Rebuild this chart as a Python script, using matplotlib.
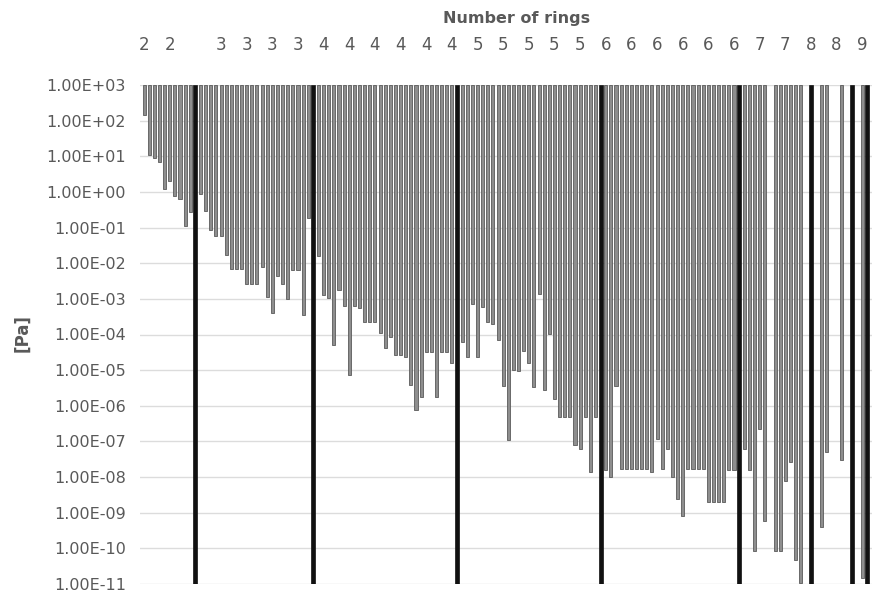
import numpy as np
import matplotlib.pyplot as plt

nan = np.nan

# pressure reached by each configuration [Pa], grouped by number of rings
rings_2 = [1.4e2, 1.1e1, 9.0, 7.0, 1.2, 2.0, 0.78, 0.63, 0.11, 0.28]
rings_3 = [0.85, 0.3, 0.083, 0.058, 0.058, 0.0166, 0.0068, 0.0068, 0.0068, 0.0026,
           0.0026, 0.0026, 0.0076, 0.0011, 4.1e-4, 0.0043, 0.0026, 1.0e-3, 0.0065,
           0.0065, 3.5e-4, 0.18]
rings_4 = [0.0155, 1.3e-3, 1.05e-3, 5.1e-5, 1.8e-3, 6.5e-4, 7.4e-6, 6.5e-4, 5.5e-4,
           2.3e-4, 2.3e-4, 2.3e-4, 1.1e-4, 4.2e-5, 8.7e-5, 2.7e-5, 2.7e-5, 2.4e-5,
           3.9e-6, 7.8e-7, 1.8e-6, 3.3e-5, 3.3e-5, 1.8e-6, 3.3e-5, 3.3e-5, 1.55e-5]
rings_5 = [6.2e-5, 2.3e-5, 7.4e-4, 2.3e-5, 5.9e-4, 2.2e-4, 2.0e-4, 6.9e-5, 3.7e-6,
           1.07e-7, 1.0e-5, 9.3e-6, 3.4e-5, 1.6e-5, 3.4e-6, 1.4e-3, 2.7e-6, 1.05e-4,
           1.6e-6, 4.8e-7, 4.8e-7, 4.8e-7, 7.8e-8, 6.2e-8, 4.8e-7, 1.4e-8, 4.8e-7]
rings_6 = [1.6e-8, 1.0e-8, 3.7e-6, 1.7e-8, 1.7e-8, 1.7e-8, 1.7e-8, 1.7e-8, 1.7e-8,
           1.4e-8, 1.2e-7, 1.7e-8, 6.2e-8, 1.0e-8, 2.5e-9, 8.3e-10, 1.7e-8, 1.7e-8,
           1.7e-8, 1.7e-8, 2.0e-9, 2.0e-9, 2.0e-9, 2.0e-9, 1.55e-8, 1.55e-8]
rings_7 = [6.2e-8, 1.55e-8, 8.7e-11, 2.2e-7, 6.0e-10, nan, 8.7e-11, 8.7e-11, 7.9e-9,
           2.6e-8, 4.6e-11, 1.1e-11, nan]
rings_8 = [nan, 3.9e-10, 5.2e-8, nan, nan, 3.0e-8, nan]
rings_9 = [nan, 1.5e-11]

# thick separator bar after each group
sep_value = 1e-11

top_labels = ['2', '2', '', '3', '3', '3', '3', '4', '4', '4', '4', '4', '4',
              '5', '5', '5', '5', '5', '6', '6', '6', '6', '6', '6',
              '7', '7', '8', '8', '9']
y_ticks = [10.0 ** e for e in range(3, -12, -1)]

groups = [rings_2, rings_3, rings_4, rings_5, rings_6, rings_7, rings_8, rings_9]
values = []
is_sep = []
for g in groups:
    values += g
    is_sep += [False] * len(g)
    values.append(sep_value)
    is_sep.append(True)
values = np.array(values, dtype=float)
is_sep = np.array(is_sep)
x = np.arange(len(values))

top = 1e3
fig = plt.figure(figsize=(8.74, 5.93), dpi=100)
ax = fig.add_axes([140 / 874, 1 - 584 / 593, 732 / 874, 499 / 593])

gray = ~is_sep & ~np.isnan(values)
ax.bar(x[gray], top - values[gray], bottom=values[gray], width=0.6,
       color='#8e8e8e', edgecolor='#5a5a5a', linewidth=0.6, zorder=2)
ax.bar(x[is_sep], top - values[is_sep], bottom=values[is_sep], width=0.8,
       color='#111111', edgecolor='#111111', linewidth=0.5, zorder=3)

ax.set_yscale('log')
ax.set_ylim(1e-11, 1e3)
ax.set_xlim(-0.8, 141.9)
ax.set_yticks(y_ticks)
ax.set_yticklabels(['%.2E' % v for v in y_ticks])
ax.minorticks_off()
ax.yaxis.grid(True, color='#dcdcdc', linewidth=1.0, zorder=0)
ax.set_axisbelow(True)

ax.xaxis.tick_top()
ax.set_xticks(np.arange(0, 141, 5))
ax.set_xticklabels(top_labels)

txt = '#595959'
ax.tick_params(axis='x', length=0, pad=22, labelsize=12, labelcolor=txt)
ax.tick_params(axis='y', length=0, pad=10, labelsize=11.5, labelcolor=txt)
for s in ax.spines.values():
    s.set_visible(False)

fig.text(517 / 874, 1 - 18 / 593, 'Number of rings', ha='center', va='center',
         fontsize=11.5, fontweight='bold', color=txt)
fig.text(22 / 874, 1 - 333 / 593, '[Pa]', ha='center', va='center', rotation=90,
         fontsize=12, fontweight='bold', color=txt)

fig.savefig('out.png', dpi=100)
